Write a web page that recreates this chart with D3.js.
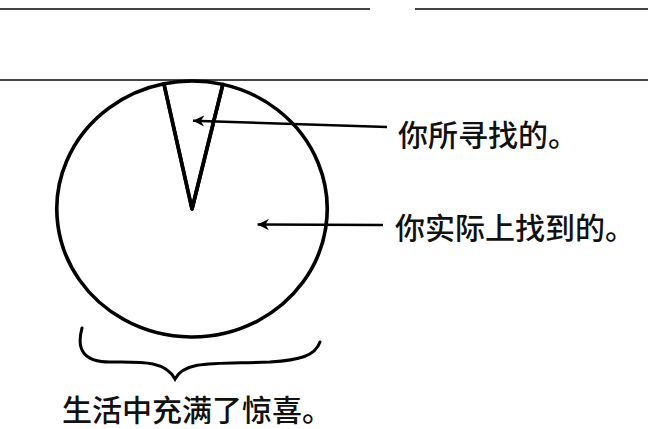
<!DOCTYPE html>
<html>
<head>
<meta charset="utf-8">
<script src="https://cdn.jsdelivr.net/npm/d3@7"></script>
<style>
  body { margin: 0; background: #fff; }
  text { font-family: "Noto Sans CJK SC", sans-serif; font-weight: 500; fill: #111; }
</style>
</head>
<body>
<div id="chart"></div>
<script>
const width = 648;
const height = 429;

// data
const categories = ["你所寻找的。", "你实际上找到的。"];
const values = [7, 93];
const caption = "生活中充满了惊喜。";

const svg = d3.select("#chart")
    .append("svg")
    .attr("width", width)
    .attr("height", height);

// scanned page rules
svg.append("line").attr("x1", 0).attr("x2", 370).attr("y1", 9).attr("y2", 9)
    .attr("stroke", "#444").attr("stroke-width", 2);
svg.append("line").attr("x1", 415).attr("x2", 648).attr("y1", 9).attr("y2", 9)
    .attr("stroke", "#444").attr("stroke-width", 2);
svg.append("line").attr("x1", 0).attr("x2", 648).attr("y1", 80).attr("y2", 80)
    .attr("stroke", "#444").attr("stroke-width", 2);

// pie
const cx = 192, cy = 209, r = 130;
const sx = 1.04, sy = 0.985;
const start = -12 * Math.PI / 180;

const pie = d3.pie().sort(null)
    .startAngle(start)
    .endAngle(start + 2 * Math.PI);
const arcs = pie(values);
const arc = d3.arc().innerRadius(0).outerRadius(r);

const g = svg.append("g")
    .attr("transform", `translate(${cx},${cy}) scale(${sx},${sy})`);

g.selectAll("path")
    .data(arcs)
    .enter()
    .append("path")
    .attr("d", arc)
    .attr("fill", "none")
    .attr("stroke", "#000")
    .attr("stroke-width", 3.5)
    .attr("stroke-linejoin", "round");

// arrows + labels
const defs = svg.append("defs");
defs.append("marker")
    .attr("id", "head")
    .attr("viewBox", "0 0 10 10")
    .attr("refX", 0).attr("refY", 5)
    .attr("markerWidth", 4.5).attr("markerHeight", 4.5)
    .attr("orient", "auto")
    .append("path")
    .attr("d", "M0,5 L10,0 L7,5 L10,10 Z")
    .attr("fill", "#000");

// arrow tips inside each slice
const tips = [
    d3.pointRadial((arcs[0].startAngle + arcs[0].endAngle) / 2, r * 0.69),
    d3.pointRadial(Math.PI * 0.578, r * 0.5)
];
const labelY = [133, 226];
const lineEndY = [127, 225];
const lineEnd = [387, 383];
const labelX = [398, 395];

categories.forEach((c, i) => {
    const tx = cx + tips[i][0] * sx;
    const ty = cy + tips[i][1] * sy;
    svg.append("line")
        .attr("x1", tx).attr("y1", ty)
        .attr("x2", lineEnd[i]).attr("y2", lineEndY[i])
        .attr("stroke", "#000")
        .attr("stroke-width", 2.5)
        .attr("marker-start", "url(#head)");
    svg.append("text")
        .attr("x", labelX[i])
        .attr("y", labelY[i])
        .attr("dominant-baseline", "central")
        .attr("font-size", 30)
        .text(c);
});

// brace under the pie
const brace = d3.path();
brace.moveTo(82, 328);
brace.bezierCurveTo(76, 350, 84, 362, 110, 362);
brace.bezierCurveTo(140, 362, 165, 360, 175, 379);
brace.bezierCurveTo(185, 360, 215, 364, 270, 362);
brace.bezierCurveTo(300, 360, 315, 356, 320, 342);
svg.append("path")
    .attr("d", brace.toString())
    .attr("fill", "none")
    .attr("stroke", "#000")
    .attr("stroke-width", 3)
    .attr("stroke-linecap", "round");

svg.append("text")
    .attr("x", 62)
    .attr("y", 408)
    .attr("dominant-baseline", "central")
    .attr("font-size", 30)
    .text(caption);
</script>
</body>
</html>
